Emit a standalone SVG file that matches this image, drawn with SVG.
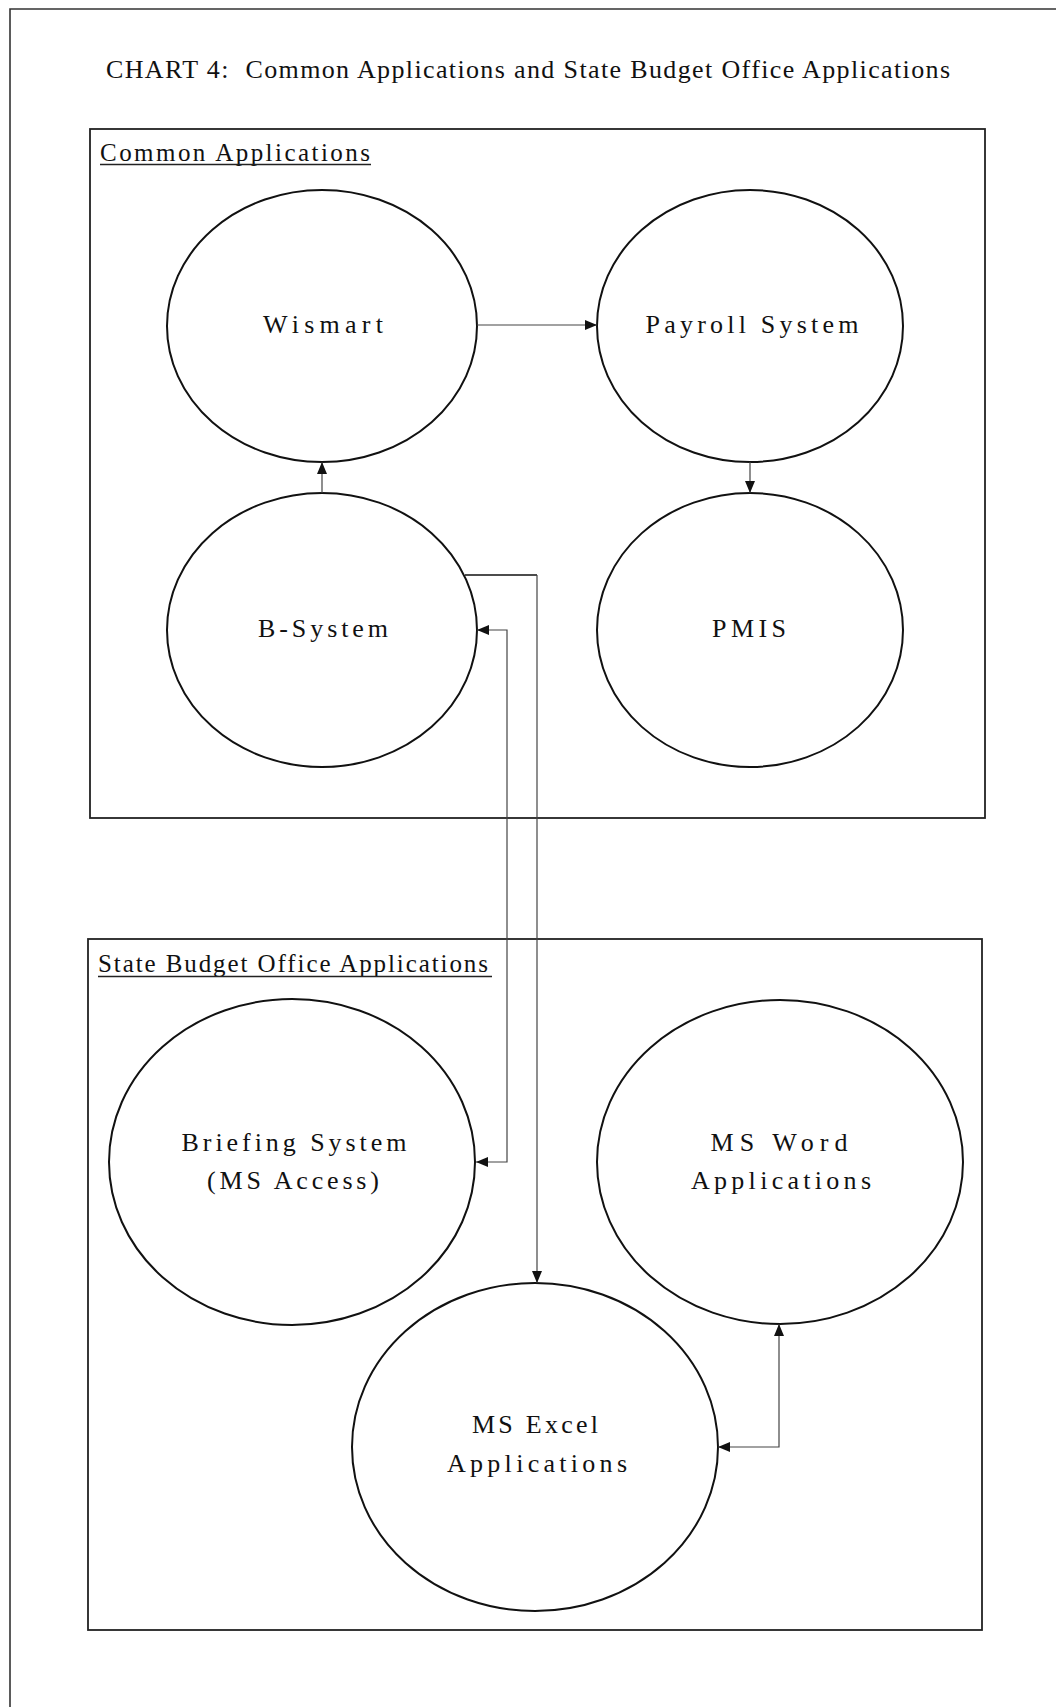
<svg xmlns="http://www.w3.org/2000/svg" width="1056" height="1707" viewBox="0 0 1056 1707">
<style>
  .frame{fill:none;stroke:#333;stroke-width:1.6}
  .panel{fill:none;stroke:#222;stroke-width:1.8}
  .node{fill:#fff;stroke:#111;stroke-width:2}
  .lbl{font-family:"Liberation Serif","Times New Roman",serif;font-size:26px;fill:#111;text-anchor:middle}
  .title{font-family:"Liberation Serif","Times New Roman",serif;font-size:26px;fill:#111}
  .plabel{font-family:"Liberation Serif","Times New Roman",serif;font-size:25px;fill:#111}
  .ul{stroke:#222;stroke-width:1.5}
  .conn{fill:none;stroke:#444;stroke-width:1.2}
  .connd{fill:none;stroke:#111;stroke-width:1.6}
</style>
<defs>
  <marker id="ah" viewBox="0 0 12 10" refX="12" refY="5" markerWidth="12" markerHeight="10" markerUnits="userSpaceOnUse" orient="auto">
    <path d="M0,0 L12,5 L0,10 Z" fill="#111"/>
  </marker>
  <marker id="ahs" viewBox="0 0 12 10" refX="0" refY="5" markerWidth="12" markerHeight="10" markerUnits="userSpaceOnUse" orient="auto">
    <path d="M12,0 L0,5 L12,10 Z" fill="#111"/>
  </marker>
</defs>
<rect x="0" y="0" width="1056" height="1707" fill="#fff"/>
<path class="frame" d="M10,1707 L10,9 L1056,9"/>
<text class="title" x="106" y="78" textLength="844" lengthAdjust="spacing">CHART 4:&#160; Common Applications and State Budget Office Applications</text>

<g id="panel-common">
  <rect class="panel" x="90" y="129" width="895" height="689"/>
  <text class="plabel" x="100" y="161" textLength="270" lengthAdjust="spacing">Common Applications</text>
  <line class="ul" x1="100" y1="164.5" x2="371" y2="164.5"/>
</g>
<g id="panel-sbo">
  <rect class="panel" x="88" y="939" width="894" height="691"/>
  <text class="plabel" x="98" y="972" textLength="390" lengthAdjust="spacing">State Budget Office Applications</text>
  <line class="ul" x1="98" y1="976.5" x2="492" y2="976.5"/>
</g>

<g id="wismart">
  <ellipse class="node" cx="322" cy="326" rx="155" ry="136"/>
  <text class="lbl" x="323" y="333" textLength="120" lengthAdjust="spacing">Wismart</text>
</g>
<g id="payroll">
  <ellipse class="node" cx="750" cy="326" rx="153" ry="136"/>
  <text class="lbl" x="752" y="333" textLength="213" lengthAdjust="spacing">Payroll System</text>
</g>
<g id="bsystem">
  <ellipse class="node" cx="322" cy="630" rx="155" ry="137"/>
  <text class="lbl" x="323" y="637" textLength="130" lengthAdjust="spacing">B-System</text>
</g>
<g id="pmis">
  <ellipse class="node" cx="750" cy="630" rx="153" ry="137"/>
  <text class="lbl" x="749" y="637" textLength="74" lengthAdjust="spacing">PMIS</text>
</g>
<g id="briefing">
  <ellipse class="node" cx="292" cy="1162" rx="183" ry="163"/>
  <text class="lbl" x="294" y="1151" textLength="225" lengthAdjust="spacing">Briefing System</text>
  <text class="lbl" x="293" y="1189" textLength="172" lengthAdjust="spacing">(MS Access)</text>
</g>
<g id="msword">
  <ellipse class="node" cx="780" cy="1162" rx="183" ry="162"/>
  <text class="lbl" x="779" y="1151" textLength="137" lengthAdjust="spacing">MS Word</text>
  <text class="lbl" x="781" y="1189" textLength="180" lengthAdjust="spacing">Applications</text>
</g>
<g id="msexcel">
  <ellipse class="node" cx="535" cy="1447" rx="183" ry="164"/>
  <text class="lbl" x="535" y="1433" textLength="126" lengthAdjust="spacing">MS Excel</text>
  <text class="lbl" x="537" y="1472" textLength="180" lengthAdjust="spacing">Applications</text>
</g>

<g id="connectors">
  <path class="conn" d="M477,325 L597,325" marker-end="url(#ah)"/>
  <path class="conn" d="M750,462 L750,493" marker-end="url(#ah)"/>
  <path class="conn" d="M322,493 L322,462" marker-end="url(#ah)"/>
  <path class="connd" d="M465,575 L537,575"/>
  <path class="conn" d="M537,575 L537,1283" marker-end="url(#ah)"/>
  <path class="conn" d="M477,630 L507,630 L507,1162 L476,1162" marker-start="url(#ahs)" marker-end="url(#ah)"/>
  <path class="conn" d="M718,1447 L779,1447 L779,1324" marker-start="url(#ahs)" marker-end="url(#ah)"/>
</g>
</svg>
